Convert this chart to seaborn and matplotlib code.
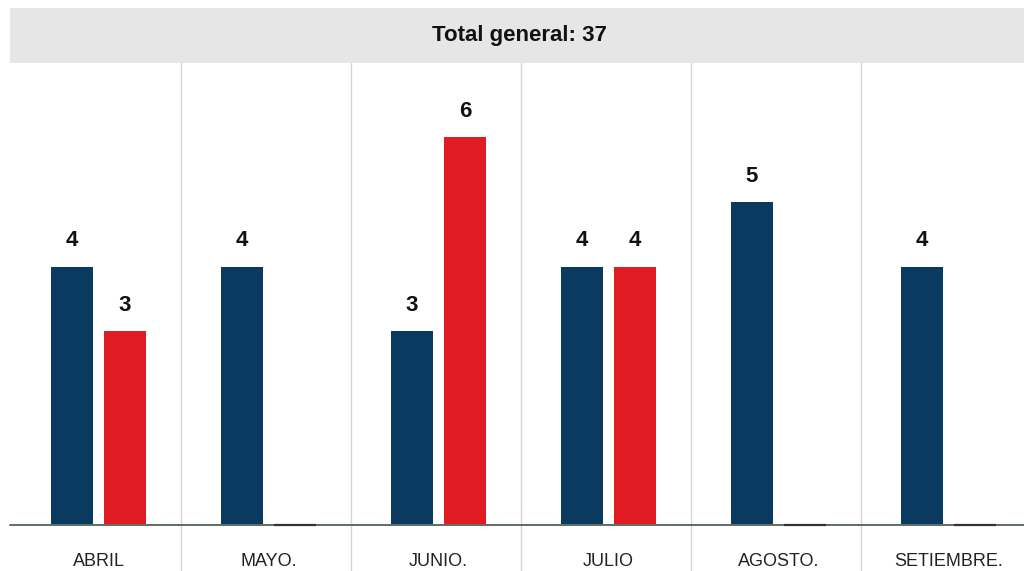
import pandas as pd
import matplotlib.pyplot as plt
import seaborn as sns
from matplotlib.patches import Rectangle

# -----------------------------
# Data
# -----------------------------
months = ["ABRIL", "MAYO.", "JUNIO.", "JULIO", "AGOSTO.", "SETIEMBRE."]
serie_azul = [4, 4, 3, 4, 5, 4]
serie_roja = [3, 0, 6, 4, 0, 0]
series = ["A", "B"]
total_label = "Total general: 37"

navy = "#0a3a60"
red = "#e11b22"

df = pd.DataFrame({
    "Mes": months * 2,
    "Valor": serie_azul + serie_roja,
    "Serie": [series[0]] * len(months) + [series[1]] * len(months),
})

# -----------------------------
# Theme
# -----------------------------
sns.set_theme(style="white")
plt.rcParams["font.family"] = ["Liberation Sans", "DejaVu Sans"]

fig = plt.figure(figsize=(10.24, 5.71), dpi=100)
ax = fig.add_axes([0, 0, 1, 1])

sns.barplot(
    data=df,
    x="Mes",
    y="Valor",
    hue="Serie",
    palette=[navy, red],
    saturation=1,
    width=0.6235,
    gap=0.208,
    legend=False,
    ax=ax,
    zorder=3,
)

# zero-value bars shown as a thin dark line
for patch in ax.patches:
    if patch.get_height() == 0:
        patch.set_edgecolor("#333333")
        patch.set_linewidth(1.6)
        patch.set_zorder(5)
    else:
        patch.set_linewidth(0)

for cont in ax.containers:
    labels = [str(int(b.get_height())) if b.get_height() > 0 else "" for b in cont]
    ax.bar_label(cont, labels=labels, padding=11, fontsize=16,
                 fontweight="bold", color="#111111")

# scale: 64.6 px per unit, baseline 46 px from bottom
px = 64.6
ax.set_ylim(-46 / px, (571 - 46) / px)
ax.set_xlim(-98.5 / 170, (1024 - 98.5) / 170)
ax.axis("off")

# baseline
ax.axhline(0, xmin=10 / 1024, xmax=1, color="#5f6e5f", linewidth=1.4, zorder=4)

# separators
for i in range(len(months) - 1):
    ax.axvline(i + 0.485, ymin=0, ymax=(571 - 63) / 571,
               color="#d6d6d6", linewidth=1, zorder=1)

# month labels
for i, m in enumerate(months):
    ax.text(i, -36 / px, m, ha="center", va="center", fontsize=13,
            color="#222222")

# title band
fig.patches.append(Rectangle((10 / 1024, 1 - 63 / 571), 1, 55 / 571,
                             transform=fig.transFigure, facecolor="#e6e6e6",
                             edgecolor="none", zorder=0))
fig.text(0.507, 1 - 35 / 571, total_label, ha="center", va="center",
         fontsize=16, fontweight="bold", color="#111111")

plt.savefig("out.png", dpi=100)
plt.close()
